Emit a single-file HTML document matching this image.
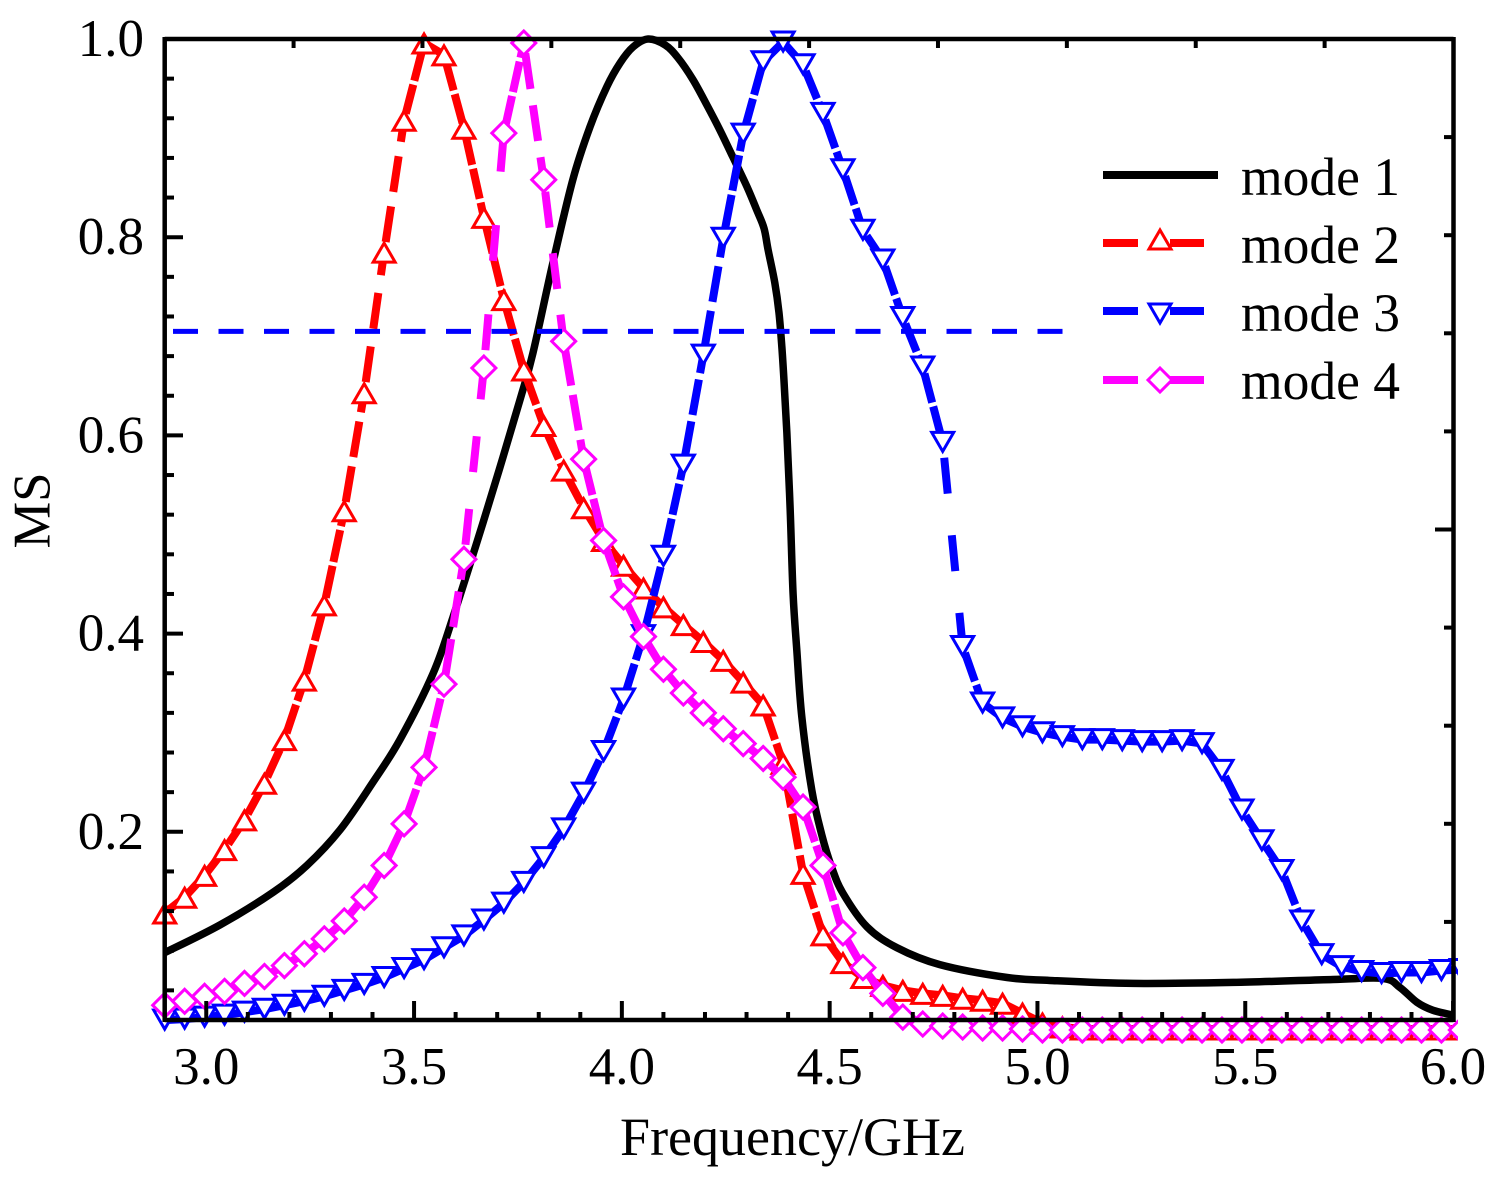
<!DOCTYPE html>
<html lang="en">
<head>
<meta charset="utf-8">
<title>MS vs Frequency</title>
<style>
html,body{margin:0;padding:0;background:#fff;width:1495px;height:1182px;overflow:hidden}
svg{display:block}
text{font-family:"Liberation Serif","Times New Roman",serif;fill:#000}
</style>
</head>
<body>
<svg id="chart" xmlns="http://www.w3.org/2000/svg" width="1495" height="1182" viewBox="0 0 1495 1182">
  <rect x="0" y="0" width="1495" height="1182" fill="#fff"/>
  <defs><clipPath id="plot-clip"><rect x="0" y="0" width="1458" height="1182"/></clipPath></defs>
  <g id="series-layer" clip-path="url(#plot-clip)"></g>
  <g id="axes-layer"></g>
  <text x="792.500" y="1155" font-size="54" text-anchor="middle">Frequency/GHz</text>
  <text transform="translate(49.5 510.5) rotate(-90)" font-size="52.5" text-anchor="middle">MS</text>
  <g id="legend">
    <line x1="1103" x2="1218" y1="175" y2="175" stroke="#000" stroke-width="8"/>
    <text x="1241" y="195" font-size="53.5">mode 1</text>
    <line x1="1103" x2="1138" y1="243" y2="243" stroke="#f00" stroke-width="8"/>
    <line x1="1170" x2="1204" y1="243" y2="243" stroke="#f00" stroke-width="8"/>
    <path d="M1160 230 L1171 249 L1149 249 Z" fill="#fff" stroke="#f00" stroke-width="3"/>
    <text x="1241" y="263" font-size="53.5">mode 2</text>
    <line x1="1103" x2="1138" y1="311" y2="311" stroke="#00f" stroke-width="8"/>
    <line x1="1170" x2="1204" y1="311" y2="311" stroke="#00f" stroke-width="8"/>
    <path d="M1160 323 L1171 304 L1149 304 Z" fill="#fff" stroke="#00f" stroke-width="3"/>
    <text x="1241" y="331" font-size="53.5">mode 3</text>
    <line x1="1103" x2="1138" y1="380" y2="380" stroke="#f0f" stroke-width="8"/>
    <line x1="1170" x2="1204" y1="380" y2="380" stroke="#f0f" stroke-width="8"/>
    <path d="M1160 368 L1172 380 L1160 392 L1148 380 Z" fill="#fff" stroke="#f0f" stroke-width="3"/>
    <text x="1241" y="399" font-size="53.5">mode 4</text>
  </g>
</svg>
<script>
var xTickLabels = ["3.0","3.5","4.0","4.5","5.0","5.5","6.0"];
var yTickLabels = ["0.2","0.4","0.6","0.8","1.0"];
var frequency = [2.900,2.948,2.996,3.044,3.092,3.140,3.188,3.236,3.284,3.332,3.380,3.428,3.476,3.524,3.572,3.620,3.668,3.716,3.764,3.812,3.860,3.908,3.956,4.004,4.052,4.100,4.148,4.196,4.244,4.292,4.340,4.388,4.436,4.484,4.532,4.580,4.628,4.676,4.724,4.772,4.820,4.868,4.916,4.964,5.012,5.060,5.108,5.156,5.204,5.252,5.300,5.348,5.396,5.444,5.492,5.540,5.588,5.636,5.684,5.732,5.780,5.828,5.876,5.924,5.972,6.020];
var mode1Frequency = [2.900,3.033,3.161,3.242,3.322,3.401,3.466,3.546,3.594,3.666,3.714,3.755,3.786,3.834,3.882,3.923,3.964,3.996,4.027,4.063,4.104,4.135,4.171,4.205,4.236,4.267,4.301,4.325,4.342,4.352,4.368,4.378,4.385,4.390,4.397,4.405,4.412,4.421,4.433,4.457,4.481,4.505,4.532,4.590,4.662,4.765,4.927,5.030,5.230,5.471,5.711,5.832,5.872,5.913,5.951,6.000];
var mode1Values = [0.078,0.106,0.139,0.166,0.202,0.250,0.293,0.360,0.417,0.512,0.578,0.636,0.683,0.774,0.858,0.911,0.952,0.976,0.992,1.000,0.994,0.981,0.959,0.933,0.908,0.881,0.851,0.827,0.809,0.787,0.754,0.724,0.689,0.656,0.603,0.525,0.440,0.383,0.316,0.242,0.197,0.164,0.138,0.104,0.083,0.066,0.053,0.050,0.047,0.048,0.051,0.052,0.043,0.028,0.020,0.015];
var mode2Values = [0.118,0.134,0.156,0.182,0.212,0.249,0.293,0.353,0.429,0.524,0.643,0.785,0.918,0.996,0.984,0.910,0.820,0.737,0.666,0.610,0.565,0.527,0.494,0.469,0.446,0.427,0.409,0.392,0.373,0.351,0.328,0.269,0.158,0.096,0.068,0.053,0.045,0.040,0.037,0.035,0.032,0.030,0.027,0.017,0.007,0.003,0.001,0.001,0.001,0.001,0.001,0.001,0.001,0.001,0.001,0.001,0.001,0.001,0.001,0.001,0.001,0.001,0.001,0.001,0.001,0.001];
var mode3Values = [0.010,0.011,0.013,0.015,0.018,0.021,0.025,0.029,0.034,0.040,0.046,0.053,0.062,0.071,0.083,0.095,0.111,0.128,0.149,0.174,0.203,0.239,0.281,0.334,0.398,0.478,0.570,0.681,0.799,0.904,0.977,0.997,0.974,0.925,0.868,0.807,0.777,0.719,0.669,0.593,0.387,0.330,0.315,0.306,0.300,0.296,0.293,0.293,0.292,0.291,0.291,0.292,0.289,0.262,0.222,0.191,0.161,0.110,0.076,0.064,0.059,0.057,0.058,0.058,0.060,0.061];
var mode4Values = [0.025,0.029,0.034,0.039,0.047,0.054,0.065,0.077,0.092,0.110,0.134,0.166,0.208,0.265,0.349,0.475,0.668,0.905,0.996,0.858,0.695,0.576,0.494,0.437,0.397,0.364,0.340,0.320,0.304,0.289,0.274,0.255,0.225,0.166,0.098,0.063,0.037,0.013,0.006,0.004,0.003,0.002,0.002,0.001,0,0,0,0,0,0,0,0,0,0,0,0,0,0,0,0,0,0,0,0,0,0];
var thresholdValue = 0.705;
var thresholdRange = [2.920,5.063];

var X0 = 164.7, X_PER_GHZ = 415.6, XMIN = 2.9;
var Y0 = 1030, Y_PER_UNIT = 991;
function xScale(f){ return X0 + (f - XMIN) * X_PER_GHZ; }
function yScale(v){ return Y0 - v * Y_PER_UNIT; }
var NS = "http://www.w3.org/2000/svg";
var seriesLayer = document.getElementById("series-layer");
var axesLayer = document.getElementById("axes-layer");
var chartSvg = document.getElementById("chart");

function smoothPath(xs, ys){
  var p = xs.map(function(x, i){ return [xScale(x), yScale(ys[i])]; });
  var d = "M" + p[0][0].toFixed(2) + " " + p[0][1].toFixed(2);
  for (var i = 0; i < p.length - 1; i++){
    var a = p[Math.max(i - 1, 0)], b = p[i], c = p[i + 1], e = p[Math.min(i + 2, p.length - 1)];
    var c1x = b[0] + (c[0] - a[0]) / 6, c1y = b[1] + (c[1] - a[1]) / 6;
    var c2x = c[0] - (e[0] - b[0]) / 6, c2y = c[1] - (e[1] - b[1]) / 6;
    d += "C" + c1x.toFixed(2) + " " + c1y.toFixed(2) + " " + c2x.toFixed(2) + " " + c2y.toFixed(2) + " " + c[0].toFixed(2) + " " + c[1].toFixed(2);
  }
  return d;
}
function markerPath(kind, x, y){
  if (kind === "up") return "M" + x + " " + (y - 9) + "L" + (x + 11) + " " + (y + 10) + "L" + (x - 11) + " " + (y + 10) + "Z";
  if (kind === "down") return "M" + x + " " + (y + 9) + "L" + (x + 11) + " " + (y - 10) + "L" + (x - 11) + " " + (y - 10) + "Z";
  return "M" + x + " " + (y - 12) + "L" + (x + 12) + " " + y + "L" + x + " " + (y + 12) + "L" + (x - 12) + " " + y + "Z";
}

// mode 1: solid black curve
var mode1Line = document.createElementNS(NS, "path");


mode1Line.setAttribute("d", smoothPath(mode1Frequency, mode1Values));
mode1Line.setAttribute("fill", "none");
mode1Line.setAttribute("stroke", "#000");
mode1Line.setAttribute("stroke-width", "7.5");
mode1Line.setAttribute("stroke-linejoin", "round");
seriesLayer.appendChild(mode1Line);

function drawSeries(values, color, kind, prefix){
  // the dash period grows with the length of each marker-to-marker segment
  for (var s = 0; s < values.length - 1; s++){
    var x1 = xScale(frequency[s]), y1 = yScale(values[s]);
    var x2 = xScale(frequency[s + 1]), y2 = yScale(values[s + 1]);
    var len = Math.sqrt((x2 - x1) * (x2 - x1) + (y2 - y1) * (y2 - y1));
    var seg = document.createElementNS(NS, "line");
    
    
    seg.setAttribute("x1", x1.toFixed(2));
    seg.setAttribute("y1", y1.toFixed(2));
    seg.setAttribute("x2", x2.toFixed(2));
    seg.setAttribute("y2", y2.toFixed(2));
    seg.setAttribute("stroke", color);
    seg.setAttribute("stroke-width", "8");
    if (len >= 34){
      var period = Math.max(0.38 * len, 34);
      var dash = period < 40 ? period - 4 : 36;
      seg.setAttribute("stroke-dasharray", dash.toFixed(1) + " " + (period - dash).toFixed(1));
      seg.setAttribute("stroke-dashoffset", (0.8 * period).toFixed(1));
    }
    seriesLayer.appendChild(seg);
  }
  for (var i = 0; i < values.length; i++){
    var m = document.createElementNS(NS, "path");
    
    
    m.setAttribute("d", markerPath(kind, xScale(frequency[i]), yScale(values[i])));
    m.setAttribute("fill", "#fff");
    m.setAttribute("stroke", color);
    m.setAttribute("stroke-width", "3");
    seriesLayer.appendChild(m);
  }
}
drawSeries(mode2Values, "#f00", "up", "mode-2");
drawSeries(mode3Values, "#00f", "down", "mode-3");
drawSeries(mode4Values, "#f0f", "diamond", "mode-4");

var thresholdLine = document.createElementNS(NS, "line");


thresholdLine.setAttribute("x1", xScale(thresholdRange[0]));
thresholdLine.setAttribute("x2", xScale(thresholdRange[1]));
thresholdLine.setAttribute("y1", yScale(thresholdValue));
thresholdLine.setAttribute("y2", yScale(thresholdValue));
thresholdLine.setAttribute("stroke", "#00f");
thresholdLine.setAttribute("stroke-width", "5");
thresholdLine.setAttribute("stroke-dasharray", "25 20.5");
chartSvg.insertBefore(thresholdLine, axesLayer);

// axes frame
var frame = document.createElementNS(NS, "path");


frame.setAttribute("d", "M164.7 39H1453.500M1453.500 37V1022M1453.500 1020H164.700M164.700 1022V37");
frame.setAttribute("fill", "none");
frame.setAttribute("stroke", "#000");
frame.setAttribute("stroke-width", "4.5");
axesLayer.appendChild(frame);

function tick(x1, y1, x2, y2, name){
  var t = document.createElementNS(NS, "line");
  
  
  t.setAttribute("x1", x1);
  t.setAttribute("y1", y1);
  t.setAttribute("x2", x2);
  t.setAttribute("y2", y2);
  t.setAttribute("stroke", "#000");
  t.setAttribute("stroke-width", "4");
  axesLayer.appendChild(t);
}
// bottom ticks
for (var xi = 0; xi <= 30; xi++){
  var bx = xScale(3 + xi * 0.1);
  tick(bx, 1020, bx, xi % 5 === 0 ? 1001 : 1012, xi % 5 === 0 ? "x-major-tick" : "x-minor-tick");
}
// left ticks
for (var yi = 1; yi <= 25; yi++){
  var ly = yScale(yi * 0.04);
  tick(164.7, ly, yi % 5 === 0 ? 183 : 174, ly, yi % 5 === 0 ? "y-major-tick" : "y-minor-tick");
}
// top ticks
for (var ti = 1; ti < 10; ti++){
  var tx = 164.7 + ti * 128.88;
  tick(tx, 39, tx, 48, "top-tick");
}
// right ticks
for (var ri = 1; ri < 10; ri++){
  var ry = 1020 - ri * 98.1;
  tick(1453.5, ry, ri === 5 ? 1435 : 1444, ry, "right-tick");
}
// tick labels
xTickLabels.forEach(function(label){
  var tl = document.createElementNS(NS, "text");
  
  
  tl.setAttribute("x", xScale(parseFloat(label)));
  tl.setAttribute("y", 1084);
  tl.setAttribute("font-size", "53");
  tl.setAttribute("text-anchor", "middle");
  tl.textContent = label;
  axesLayer.appendChild(tl);
});
yTickLabels.forEach(function(label){
  var yl = document.createElementNS(NS, "text");
  
  
  yl.setAttribute("x", 144);
  yl.setAttribute("y", yScale(parseFloat(label)) + 17);
  yl.setAttribute("font-size", "53");
  yl.setAttribute("text-anchor", "end");
  yl.textContent = label;
  axesLayer.appendChild(yl);
});
</script>
</body>
</html>
